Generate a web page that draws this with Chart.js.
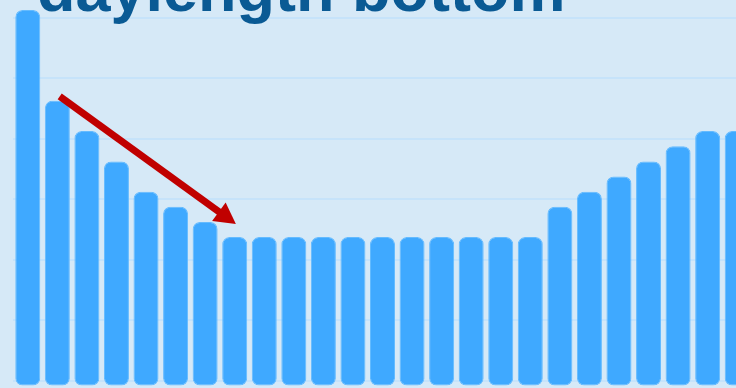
<!DOCTYPE html>
<html lang="en">
<head>
    <meta charset="UTF-8">
    <title>daylength bottom</title>
    <script src="https://cdn.jsdelivr.net/npm/chart.js@4"></script>
    <style>
        html, body { margin: 0; padding: 0; background: #d6e9f7; }
        #frame { position: relative; width: 736px; height: 388px; overflow: hidden; background: #d6e9f7; }
        #wrap { position: absolute; left: 0; top: -43px; width: 752px; height: 430px; }
    </style>
</head>
<body>
    <div id="frame">
        <div id="wrap">
            <canvas id="daylength-canvas"></canvas>
        </div>
    </div>

    <script type="text/javascript">
        // hours of daylight per period, dropping into the winter bottom and climbing out again
        var periods = ['1', '2', '3', '4', '5', '6', '7', '8', '9', '10', '11', '12', '13',
                       '14', '15', '16', '17', '18', '19', '20', '21', '22', '23', '24', '25'];
        var daylength = [12.25, 9.25, 8.25, 7.25, 6.25, 5.75, 5.25,
                         4.75, 4.75, 4.75, 4.75, 4.75, 4.75, 4.75, 4.75, 4.75, 4.75, 4.75,
                         5.75, 6.25, 6.75, 7.25, 7.75, 8.25, 8.25];
        var hourTicks = [0, 2, 4, 6, 8, 10, 12, 14];

        var titleText = 'daylength bottom';
        // arrow pointing down the slope: [category index, hours]
        var arrowFrom = [1.08, 9.4];
        var arrowTo = [7.04, 5.18];

        var titlePlugin = {
            id: 'bigTitle',
            beforeDatasetsDraw: function(chart) {
                var ctx = chart.ctx;
                ctx.save();
                ctx.font = 'bold 63px "Liberation Sans", Arial, sans-serif';
                ctx.fillStyle = '#0a5a94';
                ctx.textBaseline = 'alphabetic';
                ctx.textAlign = 'left';
                ctx.fillText(titleText, chart.chartArea.left + 24, 54);
                ctx.restore();
            }
        };

        var arrowPlugin = {
            id: 'slopeArrow',
            afterDatasetsDraw: function(chart) {
                var x = chart.scales.x, y = chart.scales.y;
                var x1 = x.getPixelForValue(arrowFrom[0]), y1 = y.getPixelForValue(arrowFrom[1]);
                var x2 = x.getPixelForValue(arrowTo[0]), y2 = y.getPixelForValue(arrowTo[1]);
                var dx = x2 - x1, dy = y2 - y1;
                var len = Math.sqrt(dx * dx + dy * dy);
                var ux = dx / len, uy = dy / len;
                var headLen = 21, headHalf = 11.5;
                var bx = x2 - ux * headLen, by = y2 - uy * headLen;

                var ctx = chart.ctx;
                ctx.save();
                ctx.strokeStyle = '#c00000';
                ctx.fillStyle = '#c00000';
                ctx.lineWidth = 7;
                ctx.lineCap = 'butt';
                ctx.beginPath();
                ctx.moveTo(x1, y1);
                ctx.lineTo(bx + ux * 2, by + uy * 2);
                ctx.stroke();

                ctx.beginPath();
                ctx.moveTo(x2, y2);
                ctx.lineTo(bx - uy * headHalf, by + ux * headHalf);
                ctx.lineTo(bx + uy * headHalf, by - ux * headHalf);
                ctx.closePath();
                ctx.fill();
                ctx.restore();
            }
        };

        var ctx = document.getElementById('daylength-canvas').getContext('2d');
        new Chart(ctx, {
            type: 'bar',
            data: {
                labels: periods,
                datasets: [{
                    label: 'Daylength (h)',
                    data: daylength,
                    base: -0.15,
                    backgroundColor: '#3fa9ff',
                    borderColor: '#64bbff',
                    borderWidth: 1,
                    borderRadius: 7,
                    borderSkipped: false,
                    barPercentage: 0.846,
                    categoryPercentage: 1
                }]
            },
            options: {
                responsive: true,
                maintainAspectRatio: false,
                animation: false,
                layout: { padding: { left: 13, right: 0, top: 0, bottom: 0 } },
                plugins: {
                    legend: { display: false },
                    title: { display: false },
                    tooltip: { enabled: false }
                },
                scales: {
                    x: { display: false },
                    y: {
                        min: -0.2,
                        max: 14,
                        afterBuildTicks: function(scale) {
                            scale.ticks = hourTicks.map(function(v) { return { value: v }; });
                        },
                        afterFit: function(scale) { scale.width = 0; },
                        ticks: { display: false },
                        border: { display: false },
                        grid: { color: '#c6e3fa', lineWidth: 2, drawTicks: false }
                    }
                }
            },
            plugins: [titlePlugin, arrowPlugin]
        });
    </script>
</body>
</html>
